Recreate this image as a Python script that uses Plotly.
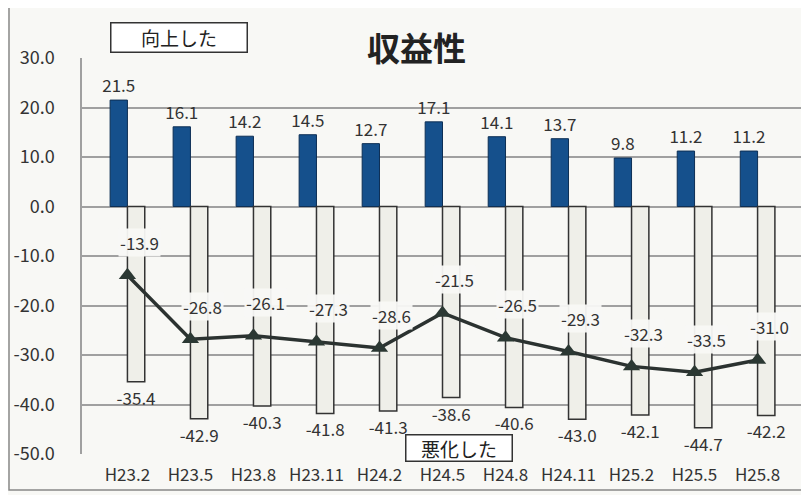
import plotly.graph_objects as go

categories = ["H23.2", "H23.5", "H23.8", "H23.11", "H24.2", "H24.5",
              "H24.8", "H24.11", "H25.2", "H25.5", "H25.8"]
improved = [21.5, 16.1, 14.2, 14.5, 12.7, 17.1, 14.1, 13.7, 9.8, 11.2, 11.2]
worsened = [-35.4, -42.9, -40.3, -41.8, -41.3, -38.6, -40.6, -43.0, -42.1, -44.7, -42.2]
di = [-13.9, -26.8, -26.1, -27.3, -28.6, -21.5, -26.5, -29.3, -32.3, -33.5, -31.0]
y_ticks = [30, 20, 10, 0, -10, -20, -30, -40, -50]

FONT = "Noto Sans CJK JP"
OFF = 8  # page body margin
W, H = 809 - OFF, 495 - OFF
L, R, T, B = 82 - OFF, 6, 58 - OFF, 41
PW, PH = W - L - R, H - T - B


def px_x(x):
    return (x - OFF - L) / PW


def px_y(y):
    return (H - B - (y - OFF)) / PH


fig = go.Figure()
fig.add_trace(go.Bar(
    x=categories, y=improved, name="向上した",
    marker=dict(color="#15508c", line=dict(color="#0d2f55", width=1)),
    text=[f"{v:.1f}" for v in improved], textposition="outside",
    constraintext="none",
    textfont=dict(size=17, color="#333333", family=FONT), cliponaxis=False,
))
fig.add_trace(go.Bar(
    x=categories, y=worsened, name="悪化した",
    marker=dict(color="#efefe9", line=dict(color="#333333", width=1.5)),
    text=[f"{v:.1f}" for v in worsened], textposition="outside",
    constraintext="none",
    textfont=dict(size=17, color="#333333", family=FONT), cliponaxis=False,
))
fig.add_trace(go.Scatter(
    x=categories, y=di, mode="lines+markers", name="DI",
    line=dict(color="#2b3230", width=3.5),
    marker=dict(symbol="triangle-up", size=15, color="#2b3833"),
))

annotations = []
for c, v in zip(categories, di):
    annotations.append(dict(
        x=c, y=v, xref="x", yref="y", text=f"{v:.1f}", showarrow=False,
        yshift=33, xshift=12, bgcolor="rgba(248,248,245,0.95)",
        font=dict(size=17, color="#333333", family=FONT),
    ))

annotations.append(dict(
    x=px_x(416), y=px_y(47), xref="paper", yref="paper", text="<b>収益性</b>",
    xanchor="center", yanchor="middle",
    showarrow=False, font=dict(size=33, color="#222222", family=FONT),
))
annotations.append(dict(
    xref="paper", yref="paper", x=px_x(179), y=px_y(38),
    xanchor="center", yanchor="middle",
    text="向上した", showarrow=False, bordercolor="#333333", borderwidth=1.5,
    bgcolor="#ffffff", width=133, height=26,
    font=dict(size=19, color="#222222", family=FONT),
))
annotations.append(dict(
    xref="paper", yref="paper", x=px_x(459), y=px_y(448),
    xanchor="center", yanchor="middle",
    text="悪化した", showarrow=False, bordercolor="#333333", borderwidth=1.5,
    bgcolor="#ffffff", width=103, height=23,
    font=dict(size=19, color="#222222", family=FONT),
))

fig.update_layout(
    width=W, height=H,
    margin=dict(l=L, r=R, t=T, b=B, autoexpand=False),
    paper_bgcolor="#f8f8f5", plot_bgcolor="#f8f8f5",
    barmode="group", bargap=0.45, bargroupgap=0.0,
    showlegend=False,
    annotations=annotations,
    font=dict(family=FONT, color="#333333"),
    xaxis=dict(
        type="category", showgrid=False, tickfont=dict(size=17, color="#333333"),
        ticks="", showline=False, zeroline=False, automargin=False,
        ticklabelstandoff=9,
    ),
    yaxis=dict(
        range=[-50, 30], tickvals=y_ticks, ticktext=[f"{v:.1f}" for v in y_ticks],
        tickfont=dict(size=18, color="#333333"), showgrid=True,
        gridcolor="#a0a0a0", gridwidth=1.5, zeroline=True, zerolinecolor="#a0a0a0",
        zerolinewidth=1.5, showline=True, linecolor="#a0a0a0", linewidth=1.5,
        ticks="", ticklabelstandoff=22, automargin=False,
    ),
    shapes=[dict(type="rect", xref="paper", yref="paper",
                 x0=px_x(9), x1=px_x(806), y0=px_y(490), y1=px_y(5),
                 line=dict(color="#888888", width=1.5), layer="below")],
)

fig.write_html("out.html")
